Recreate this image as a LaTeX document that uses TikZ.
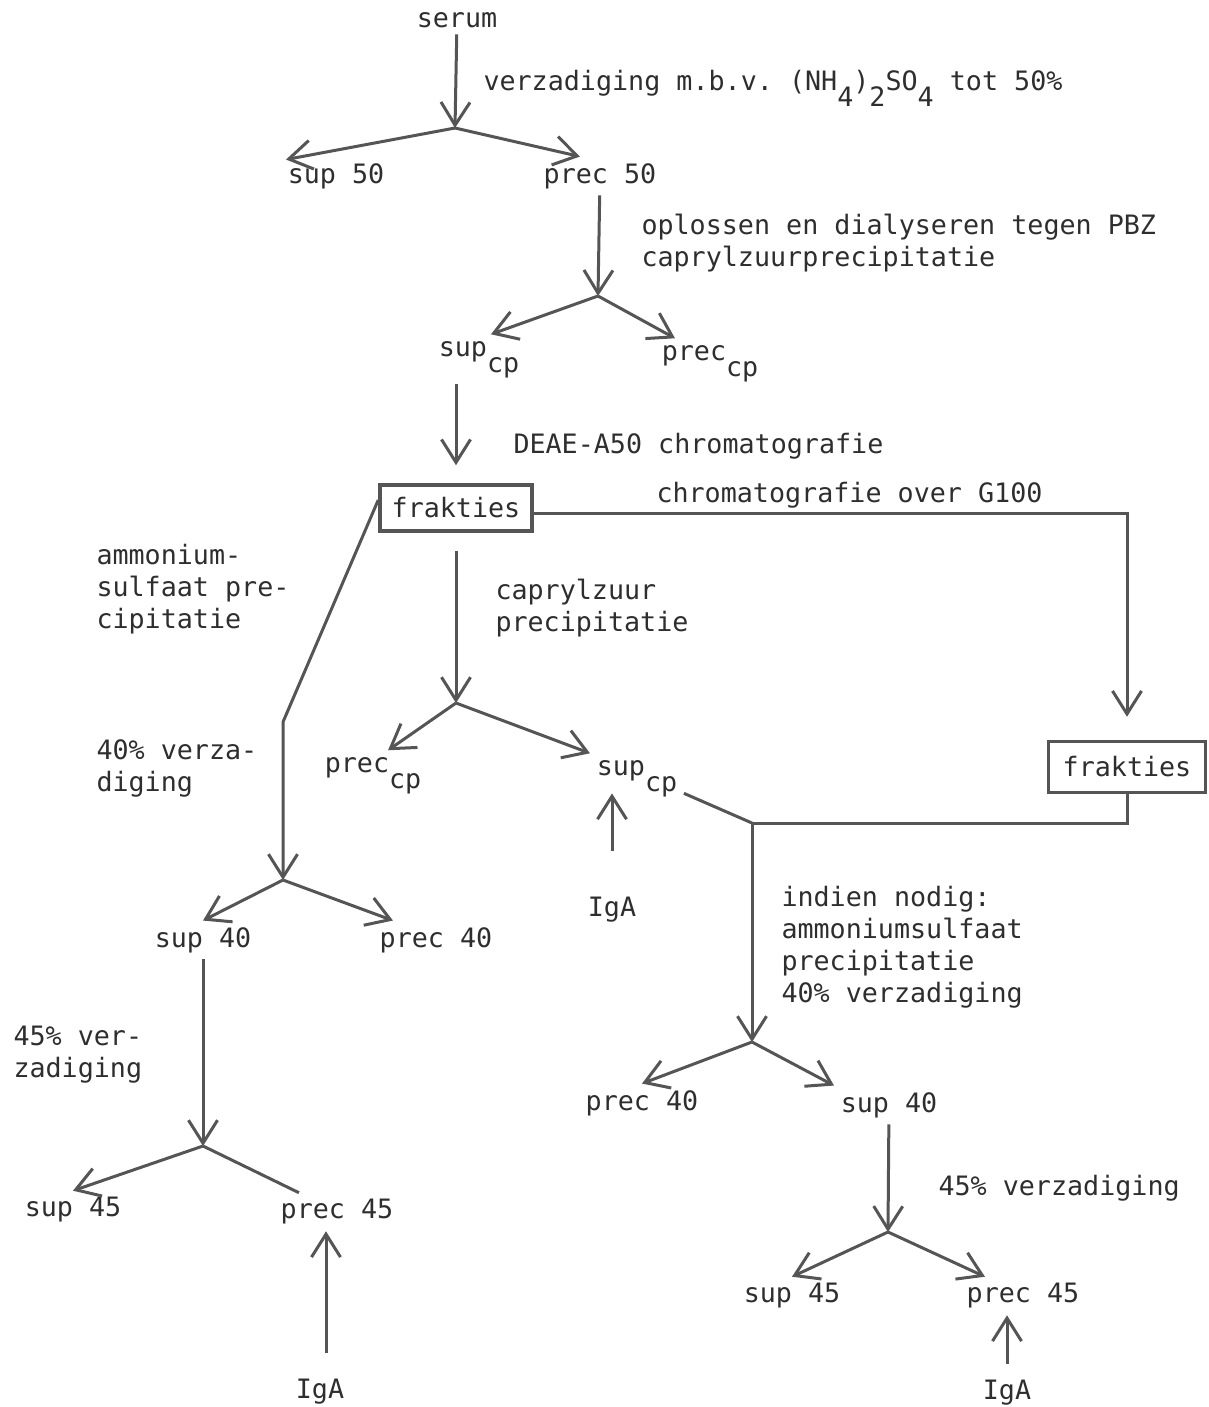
\documentclass[tikz,border=0pt]{standalone}
\usepackage{fontspec}
\setmonofont{DejaVu Sans Mono}
\usetikzlibrary{arrows.meta}
\definecolor{ink}{HTML}{2E2E2E}
\definecolor{pen}{HTML}{555555}
\newcommand\lo[1]{\raisebox{-1.1ex}{#1}}
\tikzset{
  flow/.style={-{Straight Barb[length=2.3mm,width=2.9mm]}},
  box/.style={draw=pen, line width=0.35mm, minimum width=15.2mm, minimum height=4.6mm, inner sep=0pt},
  note/.style={anchor=north west, align=left, inner sep=0pt},
}

\begin{document}
\begin{tikzpicture}[x=0.1mm, y=-0.1mm, line width=0.3mm, color=pen,
  every node/.style={text=ink, font=\ttfamily\fontsize{7.6}{9.1}\selectfont, inner sep=1.5pt}]
  \useasboundingbox (0,0) rectangle (1208,1407);
  % serum -> sup 50 / prec 50
  \node (serum) at (457,20) {serum};
  \coordinate (split50) at (455,128);
  \node (sup50) at (336,176) {sup 50};
  \node (prec50) at (600,176) {prec 50};
  \draw[flow] (serum) -- (split50);
  \draw[flow] (split50) -- ([xshift=0.5mm,yshift=-0.3mm]sup50.north west);
  \draw[flow] (split50) -- ([xshift=-2mm]prec50.north);
  \node[note, anchor=base west] at (482,90) {verzadiging m.b.v. (NH\lo{4})\lo{2}SO\lo{4} tot 50\%};
  % caprylzuur op prec 50
  \node[note] at (640,213) {oplossen en dialyseren tegen PBZ\\caprylzuurprecipitatie};
  \coordinate (splitcp) at (598,296);
  \draw[flow] (prec50) -- (splitcp);
  \node[anchor=base west] (supcpa) at (432,356) {sup\lo{cp}};
  \node[anchor=base west] (preccpa) at (655,360) {prec\lo{cp}};
  \draw[flow] (splitcp) -- ([xshift=-3.5mm]supcpa.north east);
  \draw[flow] (splitcp) -- ([xshift=2mm]preccpa.north west);
  % DEAE
  \node[box] (fraka) at (456,508) {frakties};
  \draw[flow] (fraka.north |- supcpa.south) -- ([yshift=1.8mm]fraka.north);
  \node[note, anchor=base west] at (512,453) {DEAE-A50 chromatografie};
  % G100
  \node[box, minimum width=15.7mm, minimum height=5.1mm] (frakb) at (1127,767) {frakties};
  \draw[flow] ([yshift=-0.5mm]fraka.east) -| ([yshift=2.3mm]frakb.north);
  \node[note, anchor=base west] at (655,502) {chromatografie over G100};
  % ammoniumsulfaat (links)
  \coordinate (bend) at (283,722);
  \coordinate (split40a) at (283,880);
  \draw[flow] ([yshift=0.8mm]fraka.west) -- (bend) -- (split40a);
  \node[note] at (95,543) {ammonium-\\sulfaat pre-\\cipitatie};
  \node[note] at (95,738) {40\% verza-\\diging};
  \node (sup40a) at (203,940) {sup 40};
  \node (prec40a) at (436,940) {prec 40};
  \draw[flow] (split40a) -- (sup40a.north);
  \draw[flow] (split40a) -- ([xshift=2mm]prec40a.north west);
  \coordinate (split45a) at (203,1146);
  \draw[flow] (sup40a) -- (split45a);
  \node[note] at (12,1025) {45\% ver-\\zadiging};
  \node (sup45a) at (73,1210) {sup 45};
  \node (prec45a) at (337,1212) {prec 45};
  \draw[flow] (split45a) -- (sup45a.north);
  \draw (split45a) -- ([xshift=2.5mm]prec45a.north west);
  \node (igab) at (320,1392) {IgA};
  \draw[flow] ([xshift=0.6mm,yshift=2mm]igab.north) -- ([xshift=0.6mm]igab.north |- prec45a.south);
  % caprylzuur (midden)
  \coordinate (splitcpb) at (456,703);
  \draw[flow] ([yshift=-1.8mm]fraka.south) -- (splitcpb);
  \node[note] at (494,578) {caprylzuur\\precipitatie};
  \node[anchor=base west] (preccpb) at (318,772) {prec\lo{cp}};
  \node[anchor=base west] (supcpb) at (590,775) {sup\lo{cp}};
  \draw[flow] (splitcpb) -- ([xshift=-4mm]preccpb.north east);
  \draw[flow] (splitcpb) -- (supcpb.north west);
  \node (igaa) at (612,910) {IgA};
  \draw[flow] ([yshift=4mm]igaa.north) -- ([yshift=1mm]igaa.north |- supcpb.south);
  % samenvoegen
  \coordinate (join) at (752,823);
  \draw ([yshift=-1.5mm]supcpb.east) -- (join);
  \draw (frakb.south) |- (join);
  \coordinate (split40b) at (752,1042);
  \draw[flow] (join) -- (split40b);
  \node[note] at (780,885) {indien nodig:\\ammoniumsulfaat\\precipitatie\\40\% verzadiging};
  % rechts
  \node (prec40b) at (642,1103) {prec 40};
  \node (sup40b) at (889,1105) {sup 40};
  \draw[flow] (split40b) -- (prec40b.north);
  \draw[flow] (split40b) -- (sup40b.north west);
  \coordinate (split45b) at (888,1232);
  \draw[flow] (sup40b) -- (split45b);
  \node[note, anchor=base west] at (937,1195) {45\% verzadiging};
  \node (sup45b) at (792,1296) {sup 45};
  \node (prec45b) at (1023,1296) {prec 45};
  \draw[flow] (split45b) -- (sup45b.north);
  \draw[flow] (split45b) -- ([xshift=2.5mm]prec45b.north west);
  \node (igac) at (1007,1393) {IgA};
  \draw[flow] ([yshift=1mm]igac.north) -- (igac.north |- prec45b.south);
\end{tikzpicture}
\end{document}
